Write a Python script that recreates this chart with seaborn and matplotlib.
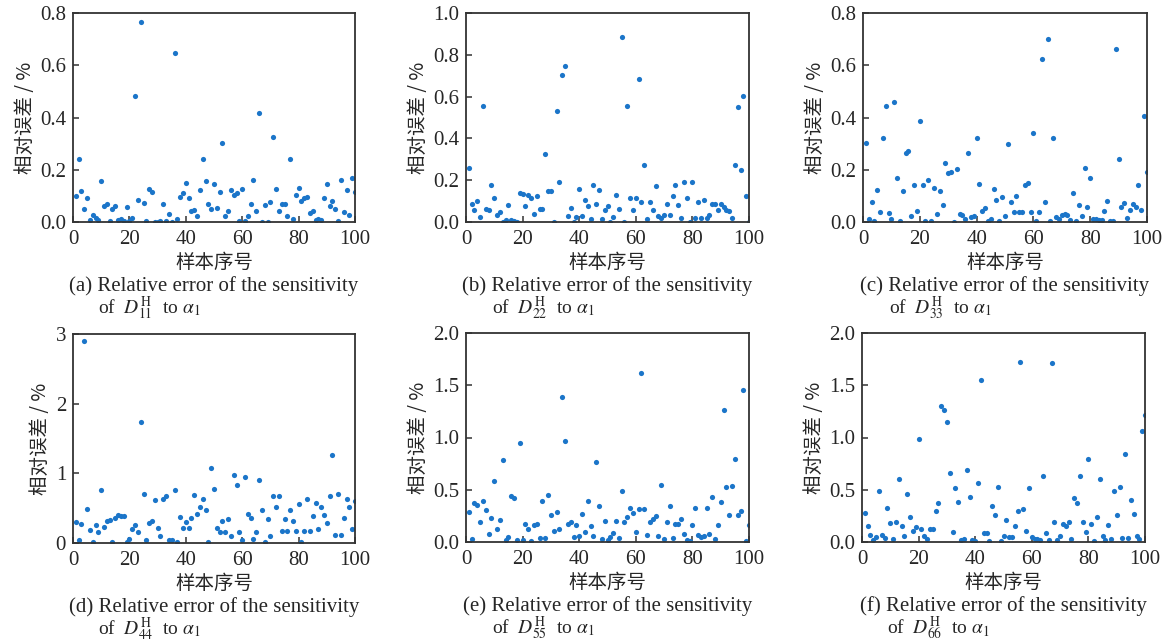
import numpy as np
import pandas as pd
import matplotlib
matplotlib.use("Agg")
import matplotlib.pyplot as plt
import seaborn as sns

sample_idx = list(range(1, 101))

err_a = [0.10,0.24,0.12,0.05,0.09,0.006,0.026,0.017,0.006,0.156,
0.06,0.068,0.002,0.049,0.061,0.006,0.01,0.003,0.058,0.004,
0.017,0.484,0.083,0.764,0.073,0.002,0.127,0.115,0.001,0.001,
0.002,0.07,0.003,0.032,0.001,0.647,0.01,0.096,0.111,0.151,
0.092,0.041,0.047,0.024,0.124,0.242,0.156,0.069,0.051,0.147,
0.055,0.115,0.303,0.022,0.041,0.122,0.102,0.111,0.002,0.128,
0.004,0.022,0.068,0.159,0.041,0.419,0.001,0.065,0.001,0.078,
0.325,0.128,0.041,0.068,0.068,0.022,0.243,0.013,0.102,0.131,
0.079,0.09,0.096,0.035,0.041,0.006,0.013,0.006,0.092,0.145,
0.06,0.079,0.049,0.002,0.159,0.037,0.124,0.027,0.169,0.115]

err_b = [0.256,0.088,0.059,0.099,0.024,0.555,0.061,0.059,0.176,0.117,
0.032,0.048,0.002,0.008,0.082,0.011,0.006,0.001,0.139,0.133,
0.075,0.131,0.117,0.04,0.126,0.064,0.062,0.326,0.15,0.149,
0.001,0.531,0.189,0.701,0.747,0.027,0.066,0.002,0.024,0.16,
0.029,0.107,0.077,0.016,0.176,0.085,0.155,0.014,0.059,0.075,
0.001,0.024,0.13,0.061,0.883,0.002,0.555,0.117,0.059,0.117,
0.683,0.098,0.272,0.013,0.096,0.059,0.171,0.027,0.021,0.032,
0.085,0.035,0.123,0.176,0.08,0.021,0.189,0.114,0.002,0.189,
0.021,0.096,0.021,0.107,0.021,0.032,0.085,0.085,0.056,0.085,
0.072,0.059,0.051,0.021,0.275,0.552,0.251,0.603,0.123,0.002]

err_c = [0.303,0.01,0.077,0.003,0.124,0.038,0.32,0.444,0.035,0.013,
0.461,0.169,0.002,0.118,0.265,0.271,0.022,0.14,0.042,0.385,
0.14,0.002,0.159,0.002,0.131,0.032,0.118,0.065,0.225,0.186,
0.192,0.001,0.202,0.032,0.028,0.013,0.266,0.019,0.022,0.32,
0.147,0.041,0.055,0.004,0.01,0.128,0.086,0.003,0.096,0.022,
0.3,0.077,0.037,0.1,0.037,0.037,0.14,0.15,0.037,0.341,
0.002,0.037,0.625,0.078,0.699,0.004,0.323,0.019,0.01,0.028,
0.032,0.026,0.006,0.111,0.005,0.065,0.022,0.206,0.058,0.17,
0.013,0.01,0.006,0.006,0.042,0.081,0.003,0.003,0.661,0.241,
0.058,0.073,0.017,0.045,0.067,0.058,0.141,0.047,0.405,0.19]

err_d = [0.30,0.05,0.27,2.90,0.49,0.19,0.02,0.26,0.16,0.76,
0.23,0.32,0.33,0.02,0.36,0.40,0.39,0.39,0.01,0.06,
0.20,0.26,0.16,1.73,0.71,0.05,0.29,0.31,0.62,0.21,
0.10,0.63,0.67,0.05,0.05,0.76,0.02,0.37,0.21,0.30,
0.21,0.36,0.69,0.41,0.52,0.63,0.47,0.02,1.07,0.77,
0.21,0.16,0.32,0.16,0.35,0.10,0.97,0.83,0.16,0.05,
0.95,0.42,0.36,0.06,0.16,0.91,0.47,0.01,0.34,0.10,
0.67,0.51,0.67,0.17,0.34,0.17,0.47,0.32,0.17,0.56,
0.02,0.17,0.63,0.17,0.39,0.57,0.20,0.51,0.40,0.28,
0.67,1.27,0.11,0.71,0.12,0.36,0.63,0.52,0.20,0.60]

err_e = [0.29,0.03,0.37,0.35,0.19,0.39,0.31,0.08,0.23,0.58,
0.12,0.21,0.78,0.02,0.05,0.44,0.42,0.02,0.95,0.02,
0.17,0.12,0.01,0.16,0.17,0.04,0.39,0.04,0.45,0.26,
0.11,0.29,0.12,1.39,0.97,0.17,0.19,0.05,0.16,0.06,
0.27,0.10,0.39,0.15,0.06,0.77,0.34,0.03,0.20,0.02,
0.05,0.09,0.20,0.04,0.49,0.19,0.24,0.33,0.28,0.10,
0.32,1.62,0.32,0.07,0.19,0.22,0.25,0.06,0.55,0.03,
0.19,0.34,0.04,0.17,0.17,0.22,0.08,0.02,0.01,0.16,
0.33,0.07,0.05,0.06,0.33,0.08,0.43,0.03,0.16,0.38,
1.26,0.53,0.26,0.54,0.79,0.26,0.30,1.45,0.01,0.16]

err_f = [0.28,0.15,0.07,0.02,0.045,0.49,0.07,0.04,0.33,0.18,
0.03,0.19,0.60,0.15,0.06,0.46,0.24,0.11,0.14,0.99,
0.12,0.06,0.03,0.12,0.12,0.30,0.37,1.30,1.26,1.15,
0.66,0.10,0.52,0.38,0.02,0.03,0.69,0.43,0.02,0.005,
0.56,1.55,0.09,0.09,0.01,0.34,0.26,0.53,0.01,0.06,
0.21,0.045,0.045,0.15,0.30,1.72,0.32,0.11,0.52,0.045,
0.03,0.03,0.02,0.63,0.09,0.02,1.71,0.19,0.02,0.06,
0.17,0.15,0.19,0.03,0.42,0.37,0.63,0.19,0.10,0.79,
0.17,0.01,0.24,0.60,0.06,0.02,0.16,0.03,0.49,0.26,
0.53,0.04,0.84,0.04,0.40,0.27,0.06,0.03,1.06,1.22]

panel_letters = ["a", "b", "c", "d", "e", "f"]
panel_subs = ["11", "22", "33", "44", "55", "66"]
panel_data = [err_a, err_b, err_c, err_d, err_e, err_f]
y_max = [0.8, 1.0, 0.8, 3.0, 2.0, 2.0]
y_ticks = [
    [0.0, 0.2, 0.4, 0.6, 0.8],
    [0.0, 0.2, 0.4, 0.6, 0.8, 1.0],
    [0.0, 0.2, 0.4, 0.6, 0.8],
    [0, 1, 2, 3],
    [0.0, 0.5, 1.0, 1.5, 2.0],
    [0.0, 0.5, 1.0, 1.5, 2.0],
]
y_fmt = ["{:.1f}", "{:.1f}", "{:.1f}", "{:.0f}", "{:.1f}", "{:.1f}"]
x_ticks = [0, 20, 40, 60, 80, 100]
xlabel = "样本序号"
ylabel = "相对误差 / %"

sns.set_style("ticks")
plt.rcParams["font.family"] = ["Liberation Serif", "Noto Sans CJK SC", "DejaVu Sans"]
plt.rcParams["mathtext.fontset"] = "stix"
plt.rcParams["xtick.direction"] = "in"
plt.rcParams["ytick.direction"] = "in"

W, H = 1167, 643
fig = plt.figure(figsize=(W / 100, H / 100), dpi=100)

# axes rectangles in pixels: left, top, right, bottom
rects_px = [
    (73, 13, 355, 222), (466, 13, 749, 222), (863, 13, 1147, 222),
    (73, 334, 355, 543), (466, 333, 749, 542), (862, 333, 1145, 542),
]
cjk = ["Noto Sans CJK SC", "DejaVu Sans"]
dot_color = "#1b75c9"

for i in range(6):
    l, t, r, b = rects_px[i]
    ax = fig.add_axes([l / W, 1 - b / H, (r - l) / W, (b - t) / H])
    df = pd.DataFrame({"idx": sample_idx, "err": panel_data[i]})
    sns.scatterplot(data=df, x="idx", y="err", ax=ax, color=dot_color,
                    s=14, linewidth=0, marker="o")
    ax.set_xlim(0, 100)
    ax.set_ylim(0, y_max[i])
    ax.set_xticks(x_ticks)
    ax.set_yticks(y_ticks[i])
    ax.set_yticklabels([y_fmt[i].format(v) for v in y_ticks[i]])
    ax.tick_params(axis="both", labelsize=15, length=4, width=1.1,
                   color="#333333", top=False, right=False)
    ax.tick_params(axis="x", pad=6)
    ax.tick_params(axis="y", pad=5)
    for sp in ax.spines.values():
        sp.set_linewidth(1.3)
        sp.set_color("#333333")
    ax.set_xlabel(xlabel, family=cjk, fontsize=14, labelpad=2)
    ax.set_ylabel(ylabel, family=cjk, fontsize=14, labelpad=3)

    cx = (l + r) / 2
    y1 = b + 64
    fig.text(cx / W, 1 - y1 / H,
             "(%s) Relative error of the sensitivity" % panel_letters[i],
             ha="center", va="center", fontsize=15)
    fig.text((cx - 116) / W, 1 - (y1 + 22) / H,
             r"of  $D_{%s}^{\mathrm{H}}$  to $\alpha_{1}$" % panel_subs[i],
             ha="left", va="center", fontsize=14)

fig.savefig("out.png", dpi=100)
